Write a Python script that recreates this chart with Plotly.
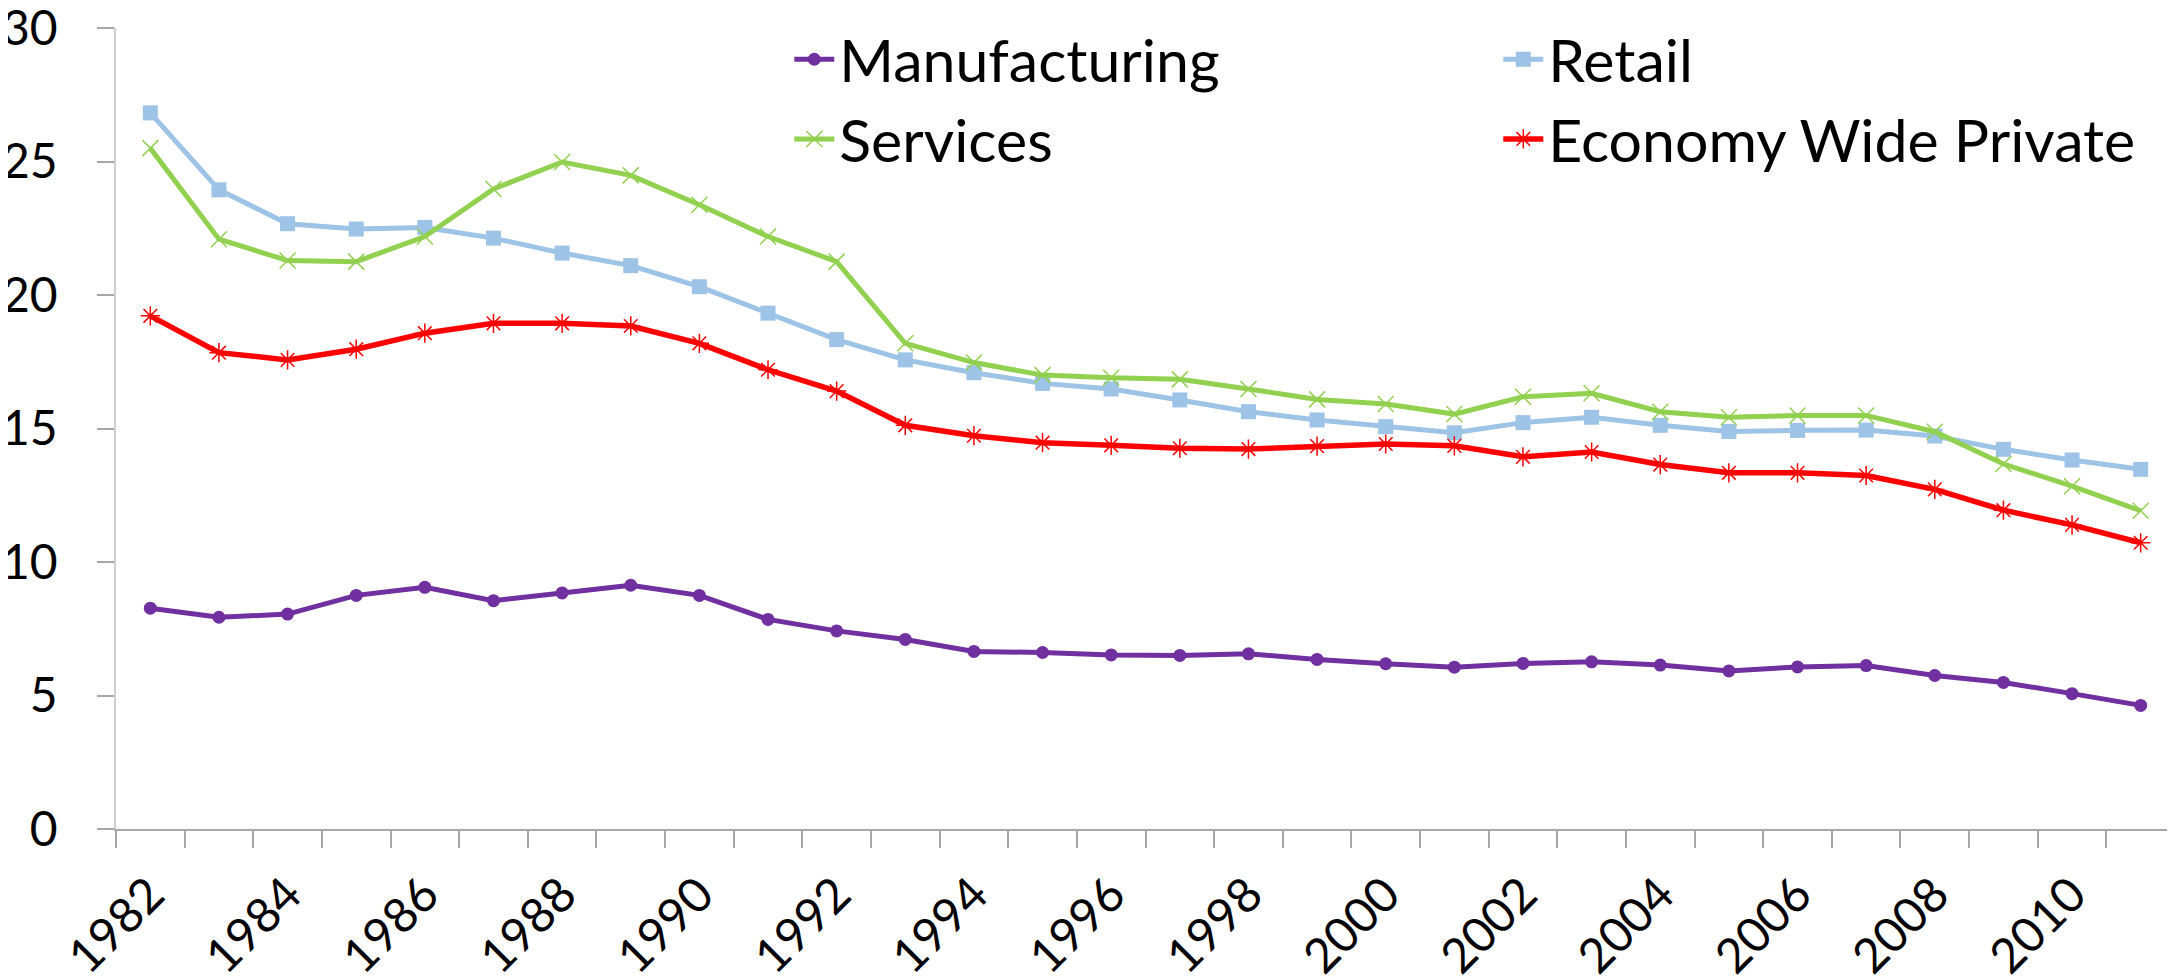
import plotly.graph_objects as go

years = list(range(1982, 2012))

manufacturing = [8.27, 7.93, 8.05, 8.75, 9.05, 8.55, 8.84, 9.13, 8.75, 7.85,
                 7.42, 7.10, 6.65, 6.61, 6.52, 6.50, 6.56, 6.35, 6.19, 6.06,
                 6.20, 6.26, 6.14, 5.92, 6.07, 6.12, 5.75, 5.49, 5.07, 4.63]

retail = [26.82, 23.94, 22.67, 22.47, 22.53, 22.13, 21.57, 21.10, 20.31, 19.32,
          18.33, 17.57, 17.09, 16.69, 16.48, 16.07, 15.63, 15.32, 15.07, 14.84,
          15.22, 15.42, 15.12, 14.89, 14.93, 14.94, 14.72, 14.22, 13.82, 13.47]

services = [25.50, 22.09, 21.29, 21.25, 22.19, 23.97, 24.98, 24.48, 23.38, 22.19,
            21.25, 18.19, 17.47, 17.00, 16.90, 16.84, 16.48, 16.09, 15.92, 15.54,
            16.19, 16.32, 15.63, 15.42, 15.49, 15.49, 14.88, 13.67, 12.84, 11.92]

economy = [19.22, 17.84, 17.57, 17.97, 18.57, 18.94, 18.94, 18.84, 18.19, 17.20,
           16.40, 15.12, 14.73, 14.47, 14.37, 14.26, 14.23, 14.34, 14.42, 14.35,
           13.94, 14.12, 13.65, 13.34, 13.34, 13.24, 12.72, 11.94, 11.39, 10.72]

year_labels = [str(y) for y in years[::2]]

FONT = "Lato, 'Open Sans', sans-serif"

fig = go.Figure()
fig.add_trace(go.Scatter(
    x=years, y=manufacturing, name="Manufacturing", mode="lines+markers",
    line=dict(color="#7030A0", width=5),
    marker=dict(symbol="circle", size=13, color="#7030A0")))
fig.add_trace(go.Scatter(
    x=years, y=retail, name="Retail", mode="lines+markers",
    line=dict(color="#9DC3E6", width=5),
    marker=dict(symbol="square", size=15, color="#9DC3E6")))
fig.add_trace(go.Scatter(
    x=years, y=services, name="Services", mode="lines+markers",
    line=dict(color="#92D050", width=5),
    marker=dict(symbol="x-thin-open", size=16, color="#92D050",
                line=dict(color="#92D050", width=1.5))))
fig.add_trace(go.Scatter(
    x=years, y=economy, name="Economy Wide Private", mode="lines+markers",
    line=dict(color="#FF0000", width=5.5),
    marker=dict(symbol="asterisk-open", size=16, color="#FF0000",
                line=dict(color="#FF0000", width=1.5))))

fig.update_layout(
    width=2167, height=970,
    margin=dict(l=108, r=0, t=20, b=149, autoexpand=False),
    paper_bgcolor="white", plot_bgcolor="white",
    font=dict(family=FONT, color="black", size=48),
    showlegend=True,
    legend=dict(
        orientation="h", x=0.327, xanchor="left", y=1.017, yanchor="top",
        font=dict(family=FONT, size=59, color="black"),
        entrywidth=654, entrywidthmode="pixels",
        bgcolor="rgba(0,0,0,0)", itemwidth=40, tracegroupgap=0,
    ),
    xaxis=dict(
        range=[years[0] - 0.5, years[-1] + 0.5],
        tickmode="array", tickvals=years[::2], ticktext=year_labels,
        tickangle=-45, ticks="", showgrid=False, zeroline=False,
        showline=True, linecolor="#A6A6A6", linewidth=2,
        tickfont=dict(family=FONT, size=48, color="black"),
        ticklabelstandoff=16, ticklabeloverflow="allow",
        minor=dict(tickmode="linear", tick0=years[0] - 0.5, dtick=1,
                   ticks="outside", ticklen=17, tickcolor="#A6A6A6",
                   tickwidth=2, showgrid=False),
    ),
    yaxis=dict(
        range=[0, 30], dtick=5, tick0=0, showgrid=False, zeroline=False,
        showline=True, linecolor="#D0D0D0", linewidth=1.5,
        ticks="outside", ticklen=17, tickcolor="#A6A6A6", tickwidth=2,
        tickfont=dict(family=FONT, size=48, color="black"),
        ticklabelstandoff=30, ticklabeloverflow="allow",
    ),
)

fig.write_html("out.html")
